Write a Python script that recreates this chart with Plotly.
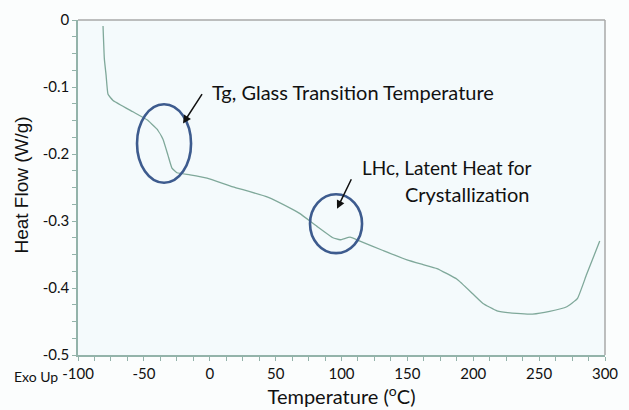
import plotly.graph_objects as go

# DSC heat-flow trace (temperature in °C, heat flow in W/g)
temperature = [-81.0, -80.0, -78.7, -77.2, -73.4, -58.3, -47.6, -40.0, -35.5,
               -31.7, -28.7, -24.9, -15.0, -2.1, 17.6, 43.5, 63.2, 68.5, 81.4,
               93.5, 98.9, 106.5, 114.0, 131.5, 149.7, 161.9, 172.5, 187.7,
               199.8, 207.4, 218.0, 233.0, 245.0, 258.0, 271.0, 279.0, 286.0, 296.0]
heat_flow = [-0.009, -0.058, -0.082, -0.111, -0.120, -0.137, -0.149, -0.163, -0.178,
             -0.202, -0.221, -0.228, -0.231, -0.236, -0.249, -0.264, -0.283, -0.289, -0.308,
             -0.325, -0.328, -0.324, -0.330, -0.344, -0.358, -0.365, -0.371, -0.387,
             -0.409, -0.423, -0.434, -0.438, -0.439, -0.435, -0.428, -0.416, -0.380, -0.330]

x_ticks = [-100, -50, 0, 50, 100, 150, 200, 250, 300]
x_tick_text = ["-100", "-50", "0", "50", "100", "150", "200", "250", "300"]
y_ticks = [0, -0.1, -0.2, -0.3, -0.4, -0.5]
y_tick_text = ["0", "-0.1", "-0.2", "-0.3", "-0.4", "-0.5"]

# Highlighted regions: (x0, x1, y0, y1) in data units
tg_region = (-55.2, -14.2, -0.1257, -0.2428)
lhc_region = (76.1, 115.6, -0.260, -0.348)

# Callout arrows: (tail_x, tail_y, head_x, head_y) in data units
tg_arrow = (-5.1, -0.1084, -20.3, -0.1546)
lhc_arrow = (108.0, -0.2355, 96.6, -0.2818)

sans = "Lato, 'Open Sans', sans-serif"
label_font = dict(family=sans, size=20, color="#111111")
tick_font = dict(family=sans, size=15, color="#111111")
curve_color = "#7fa89a"
circle_color = "#3d5b8e"
axis_green = "#93b3aa"
frame_grey = "#a8a8a8"

fig = go.Figure()
fig.add_trace(go.Scatter(
    x=temperature, y=heat_flow, mode="lines",
    line=dict(color=curve_color, width=1.3, shape="spline", smoothing=0.35),
    showlegend=False, hoverinfo="skip",
))

for (x0, x1, y0, y1) in (tg_region, lhc_region):
    fig.add_shape(type="circle", xref="x", yref="y", x0=x0, x1=x1, y0=y0, y1=y1,
                  line=dict(color=circle_color, width=2.6))

# Frame on top and right
fig.add_shape(type="line", xref="paper", yref="paper", x0=0, x1=1, y0=1, y1=1,
              line=dict(color=frame_grey, width=1.5))
fig.add_shape(type="line", xref="paper", yref="paper", x0=1, x1=1, y0=0, y1=1,
              line=dict(color=frame_grey, width=1.5))

# Callouts
for (tx, ty, hx, hy) in (tg_arrow, lhc_arrow):
    fig.add_annotation(x=hx, y=hy, ax=tx, ay=ty, axref="x", ayref="y",
                       xref="x", yref="y", text="", showarrow=True,
                       arrowhead=2, arrowsize=1.1, arrowwidth=1.5, arrowcolor="#111111")

fig.add_annotation(x=0.5, y=-0.107, xref="x", yref="y",
                   text="Tg, Glass Transition Temperature", showarrow=False,
                   xanchor="left", yanchor="middle", font=label_font)
fig.add_annotation(x=114.0, y=-0.2197, xref="x", yref="y",
                   text="LHc, Latent Heat for", showarrow=False,
                   xanchor="left", yanchor="middle", font=dict(family=sans, size=19, color="#111111"))
fig.add_annotation(x=146.7, y=-0.259, xref="x", yref="y",
                   text="Crystallization", showarrow=False,
                   xanchor="left", yanchor="middle", font=label_font)

fig.add_annotation(x=-0.125, y=-0.064, xref="paper", yref="paper", text="Exo Up",
                   showarrow=False, xanchor="left", yanchor="middle",
                   font=dict(family=sans, size=14, color="#111111"))

# Y-axis title
fig.add_annotation(x=-0.108, y=0.506, xref="paper", yref="paper",
                   text="Heat Flow (W/g)", textangle=-90, showarrow=False,
                   xanchor="center", yanchor="middle",
                   font=dict(family="Liberation Sans, Arial, sans-serif", size=19, color="#111111"))

fig.update_xaxes(
    range=[-100, 300], tickvals=x_ticks, ticktext=x_tick_text,
    showgrid=False, zeroline=False, showline=True, linecolor=axis_green, linewidth=1.5,
    ticks="outside", ticklen=4, tickcolor=axis_green, tickfont=tick_font,
    minor=dict(dtick=12.5, tick0=-100, ticks="outside", ticklen=4, tickcolor=axis_green),
    title=dict(text="Temperature (<sup>o</sup>C)", standoff=4,
               font=dict(family=sans, size=20, color="#111111")),
)
fig.update_yaxes(
    range=[-0.5, 0], tickvals=y_ticks, ticktext=y_tick_text,
    showgrid=False, zeroline=False, showline=True, linecolor=axis_green, linewidth=1.5,
    ticks="outside", ticklen=4, tickcolor=axis_green, tickfont=tick_font,
    minor=dict(dtick=0.025, tick0=0, ticks="outside", ticklen=4, tickcolor=axis_green),
)

fig.update_layout(
    width=629, height=410,
    margin=dict(l=78, r=24, t=10, b=54),
    plot_bgcolor="#f4fafc", paper_bgcolor="#fbfdfd",
)

fig.write_html("out.html")
